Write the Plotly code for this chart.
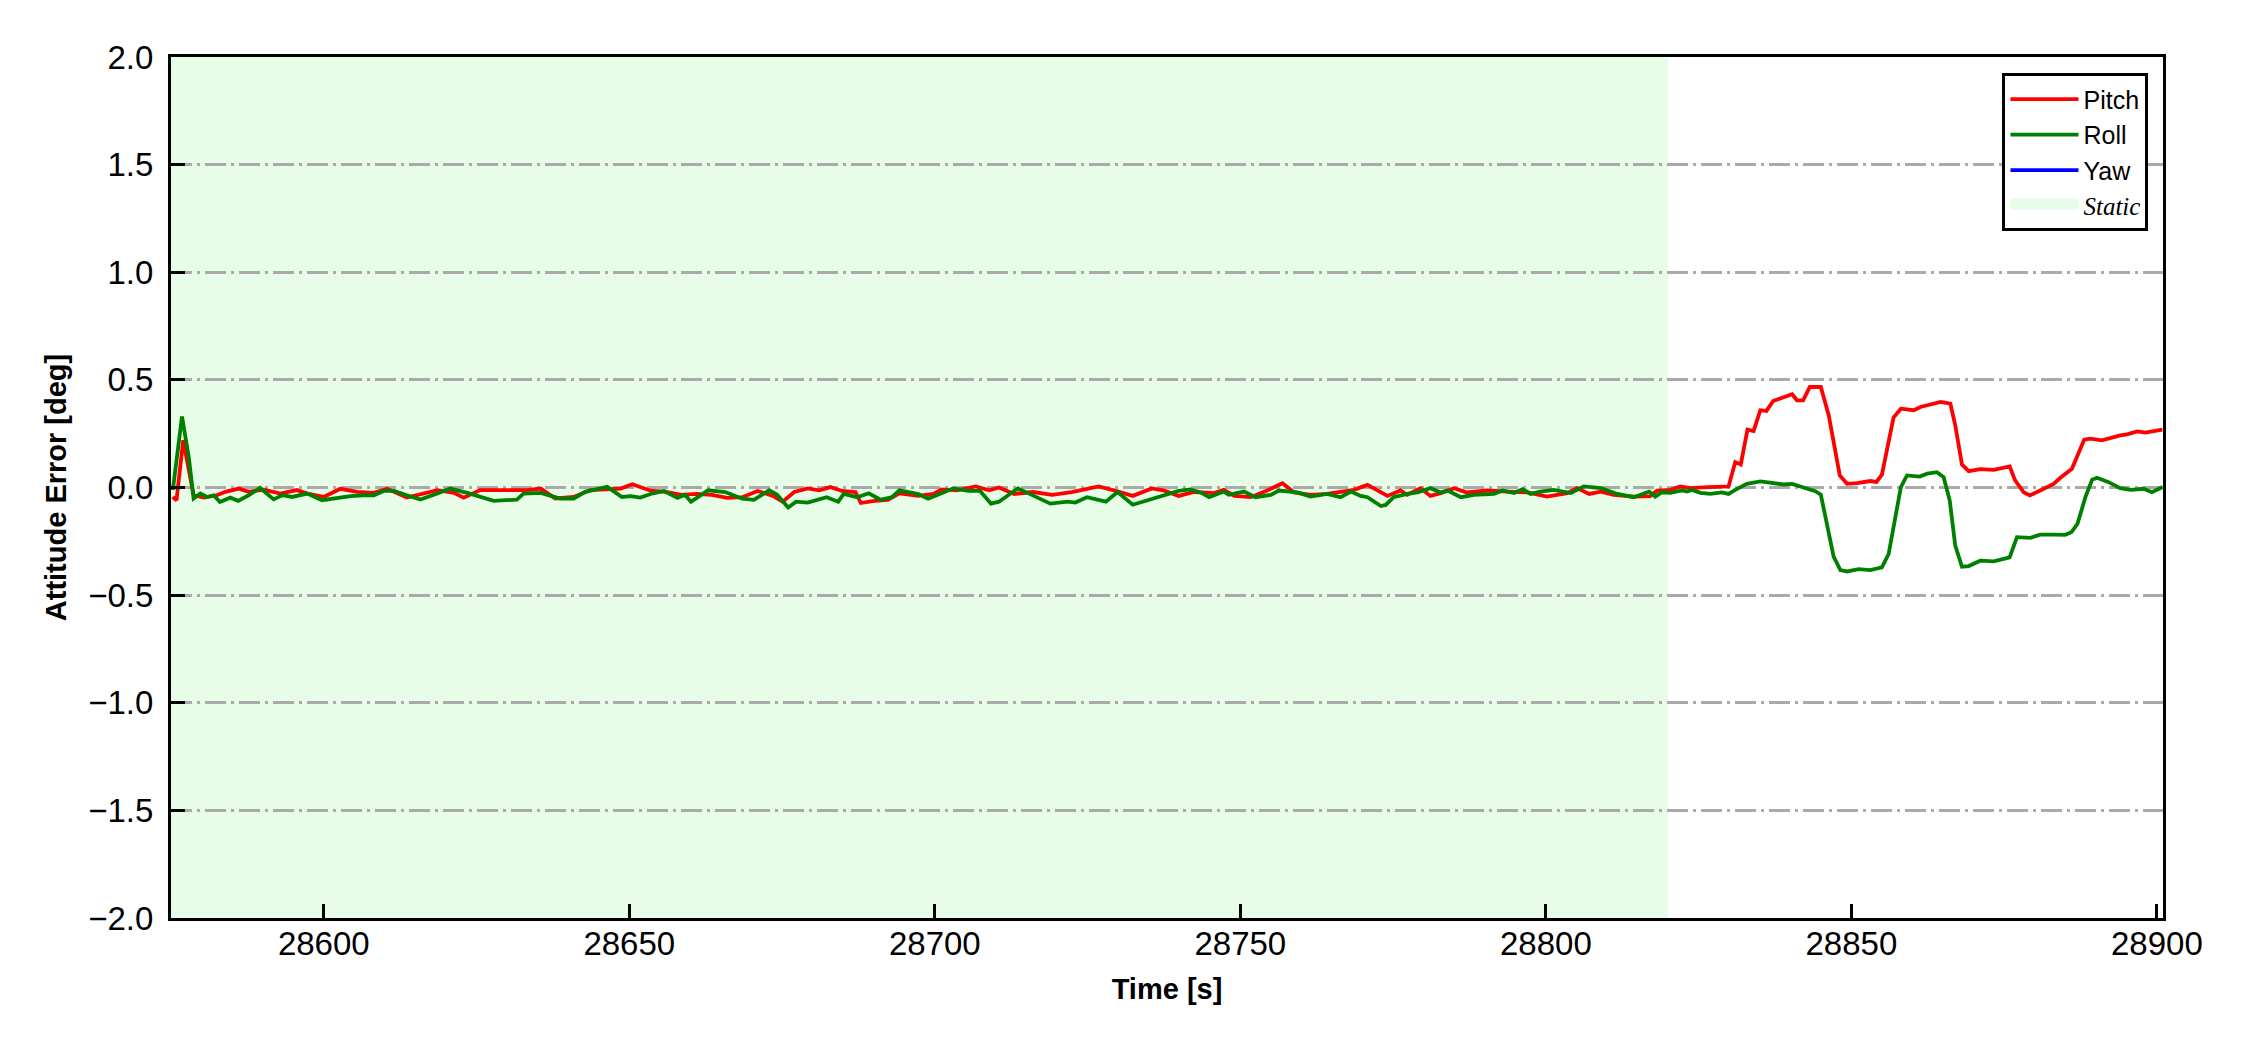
import plotly.graph_objects as go

# ---------------- data ----------------
pitch_t = [
    28575.3, 28575.9, 28577.0, 28577.9, 28578.7, 28580.4, 28582.5, 28583.9, 28586.1, 28587.7,
    28590.2, 28592.9, 28595.6, 28597.3, 28600.0, 28602.7, 28605.5, 28608.2, 28610.4, 28613.6,
    28615.8, 28618.6, 28621.3, 28622.9, 28625.6, 28630.0, 28633.3, 28635.5, 28637.9, 28640.9,
    28643.6, 28648.6, 28650.5, 28653.5, 28656.0, 28658.5, 28661.0, 28663.5, 28666.0, 28668.5,
    28671.0, 28673.5, 28675.1, 28677.0, 28679.2, 28681.1, 28682.9, 28684.8, 28687.0, 28687.9,
    28689.8, 28692.3, 28694.2, 28697.3, 28699.8, 28701.1, 28703.6, 28706.7, 28708.9, 28710.5,
    28713.0, 28716.1, 28719.2, 28722.4, 28726.8, 28729.3, 28732.4, 28735.5, 28737.4, 28739.9,
    28742.4, 28745.7, 28747.3, 28749.0, 28751.7, 28754.4, 28756.9, 28758.8, 28761.5, 28764.2,
    28766.4, 28768.6, 28770.8, 28774.1, 28776.2, 28777.3, 28779.5, 28781.1, 28782.8, 28785.0,
    28787.1, 28790.4, 28793.7, 28797.0, 28800.2, 28803.5, 28805.1, 28807.1, 28809.0, 28811.1,
    28814.4, 28817.1, 28818.2, 28820.4, 28822.0, 28823.7, 28826.5, 28829.9, 28831.0, 28831.9,
    28833.0, 28834.0, 28835.1, 28836.1, 28837.2, 28838.9, 28840.3, 28841.1, 28842.1, 28843.2,
    28845.0, 28846.3, 28848.1, 28849.3, 28850.9, 28853.1, 28854.1, 28855.0, 28856.9, 28858.1,
    28860.2, 28861.3, 28862.9, 28864.6, 28866.2, 28867.0, 28868.1, 28869.2, 28871.1, 28873.3,
    28875.9, 28876.8, 28878.2, 28879.2, 28880.9, 28883.1, 28884.2, 28886.1, 28888.1, 28889.1,
    28891.0, 28892.4, 28894.0, 28895.1, 28896.8, 28898.1, 28899.2, 28900.9,
]
pitch_deg = [
    -0.044, -0.059, 0.220, 0.080, -0.036, -0.047, -0.036, -0.020, -0.005, -0.020,
    -0.010, -0.028, -0.012, -0.028, -0.044, -0.006, -0.020, -0.025, -0.006, -0.047,
    -0.031, -0.012, -0.025, -0.047, -0.012, -0.010, -0.012, -0.005, -0.051, -0.044,
    -0.012, -0.005, 0.015, -0.015, -0.020, -0.034, -0.030, -0.034, -0.048, -0.045,
    -0.016, -0.039, -0.066, -0.021, -0.004, -0.013, 0.002, -0.016, -0.021, -0.072,
    -0.063, -0.057, -0.027, -0.039, -0.030, -0.009, -0.013, 0.005, -0.013, 0.000,
    -0.030, -0.021, -0.034, -0.021, 0.005, -0.013, -0.039, -0.004, -0.013, -0.039,
    -0.021, -0.026, -0.011, -0.039, -0.045, -0.014, 0.020, -0.023, -0.034, -0.030,
    -0.019, -0.011, 0.012, -0.039, -0.014, -0.034, -0.003, -0.039, -0.026, -0.003,
    -0.023, -0.014, -0.019, -0.023, -0.042, -0.026, -0.003, -0.030, -0.019, -0.034,
    -0.042, -0.040, -0.014, -0.011, 0.005, -0.003, 0.002, 0.005, 0.118, 0.107,
    0.269, 0.262, 0.359, 0.356, 0.402, 0.418, 0.433, 0.405, 0.405, 0.467,
    0.467, 0.335, 0.056, 0.017, 0.020, 0.030, 0.026, 0.060, 0.325, 0.366,
    0.359, 0.374, 0.385, 0.398, 0.390, 0.289, 0.107, 0.076, 0.085, 0.082,
    0.098, 0.033, -0.022, -0.037, -0.014, 0.017, 0.045, 0.087, 0.222, 0.227,
    0.219, 0.231, 0.242, 0.247, 0.261, 0.255, 0.262, 0.269,
]

roll_t = [
    28575.3, 28576.8, 28577.9, 28578.7, 28579.8, 28580.9, 28582.0, 28583.0, 28584.7, 28586.0,
    28587.7, 28589.6, 28591.8, 28593.2, 28594.8, 28597.3, 28599.7, 28601.6, 28604.4, 28606.5,
    28608.2, 28609.8, 28611.5, 28613.6, 28615.8, 28618.6, 28620.7, 28623.5, 28625.6, 28627.8,
    28631.6, 28632.7, 28635.5, 28638.7, 28640.9, 28642.8, 28646.4, 28648.8, 28650.2, 28651.8,
    28653.5, 28655.7, 28657.9, 28659.1, 28660.1, 28662.9, 28665.7, 28668.5, 28670.4, 28672.9,
    28674.2, 28676.0, 28677.3, 28679.2, 28682.3, 28684.2, 28685.1, 28687.3, 28689.2, 28691.1,
    28693.0, 28694.2, 28697.3, 28698.9, 28701.1, 28703.0, 28705.5, 28707.4, 28709.2, 28710.5,
    28713.6, 28716.1, 28718.9, 28721.8, 28723.0, 28724.9, 28728.0, 28729.9, 28732.4, 28739.9,
    28741.8, 28743.5, 28744.9, 28747.3, 28748.1, 28750.6, 28752.5, 28755.0, 28756.3, 28759.3,
    28761.5, 28764.2, 28766.4, 28768.1, 28769.7, 28770.8, 28773.0, 28773.8, 28775.1, 28777.3,
    28779.0, 28781.1, 28782.8, 28783.9, 28786.1, 28788.2, 28791.5, 28792.9, 28794.8, 28796.2,
    28797.5, 28799.1, 28801.3, 28804.1, 28806.2, 28809.0, 28811.7, 28814.4, 28816.9, 28817.9,
    28819.0, 28820.4, 28822.3, 28823.1, 28823.9, 28825.3, 28826.9, 28828.8, 28829.9, 28831.0,
    28832.9, 28835.1, 28837.3, 28838.9, 28840.3, 28842.2, 28844.1, 28845.0, 28846.0, 28847.1,
    28848.2, 28849.3, 28851.2, 28853.1, 28855.0, 28856.1, 28858.1, 28859.1, 28861.2, 28862.4,
    28864.0, 28865.1, 28866.1, 28867.0, 28868.1, 28869.2, 28871.1, 28873.3, 28875.9, 28877.1,
    28879.3, 28880.9, 28883.1, 28885.0, 28886.0, 28887.0, 28888.3, 28889.4, 28890.2, 28892.1,
    28894.0, 28895.7, 28897.8, 28899.2, 28900.9,
]
roll_deg = [
    -0.012, 0.330, 0.143, -0.051, -0.028, -0.044, -0.036, -0.067, -0.047, -0.062,
    -0.036, -0.002, -0.055, -0.036, -0.044, -0.028, -0.059, -0.051, -0.040, -0.036,
    -0.036, -0.016, -0.016, -0.036, -0.056, -0.028, -0.005, -0.025, -0.044, -0.062,
    -0.056, -0.028, -0.025, -0.051, -0.051, -0.020, 0.003, -0.044, -0.040, -0.047,
    -0.030, -0.016, -0.048, -0.034, -0.066, -0.013, -0.021, -0.052, -0.057, -0.013,
    -0.034, -0.093, -0.066, -0.070, -0.045, -0.066, -0.030, -0.045, -0.027, -0.057,
    -0.045, -0.013, -0.030, -0.052, -0.027, -0.004, -0.016, -0.016, -0.075, -0.066,
    -0.004, -0.039, -0.075, -0.066, -0.070, -0.045, -0.066, -0.021, -0.080, -0.016,
    -0.009, -0.023, -0.045, -0.019, -0.034, -0.019, -0.045, -0.034, -0.014, -0.023,
    -0.042, -0.030, -0.045, -0.019, -0.039, -0.045, -0.086, -0.081, -0.045, -0.030,
    -0.023, -0.003, -0.023, -0.014, -0.045, -0.034, -0.030, -0.014, -0.026, -0.008,
    -0.030, -0.019, -0.011, -0.026, 0.005, -0.003, -0.030, -0.045, -0.019, -0.042,
    -0.022, -0.025, -0.014, -0.019, -0.011, -0.025, -0.030, -0.023, -0.030, -0.011,
    0.017, 0.028, 0.022, 0.014, 0.017, 0.002, -0.017, -0.033, -0.161, -0.321,
    -0.384, -0.390, -0.379, -0.384, -0.371, -0.309, 0.002, 0.056, 0.051, 0.064,
    0.071, 0.048, -0.061, -0.270, -0.368, -0.365, -0.340, -0.343, -0.325, -0.231,
    -0.234, -0.219, -0.219, -0.220, -0.208, -0.169, -0.045, 0.036, 0.045, 0.025,
    -0.003, -0.011, -0.006, -0.022, 0.002,
]

# Yaw appears only in the legend of the reference (no visible curve)
yaw_t = [None]
yaw_deg = [None]

static_start = 28575.0
static_end = 28820.0

x_range = [28575.0, 28901.0]
y_range = [-2.0, 2.0]
x_ticks = [28600, 28650, 28700, 28750, 28800, 28850, 28900]
y_ticks = [-2.0, -1.5, -1.0, -0.5, 0.0, 0.5, 1.0, 1.5, 2.0]

# ---------------- figure ----------------
FONT = "Liberation Sans, Arial, sans-serif"
LW = 3.8
STATIC_COLOR = "#e8fde8"

fig = go.Figure()
fig.add_trace(go.Scatter(x=pitch_t, y=pitch_deg, mode="lines", name="Pitch",
                         line=dict(color="#ff0000", width=LW)))
fig.add_trace(go.Scatter(x=roll_t, y=roll_deg, mode="lines", name="Roll",
                         line=dict(color="#008000", width=LW)))
fig.add_trace(go.Scatter(x=yaw_t, y=yaw_deg, mode="lines", name="Yaw",
                         line=dict(color="#0000ff", width=LW)))
# legend entry for the static period (the shaded area itself is a shape below the grid)
fig.add_trace(go.Scatter(x=[None], y=[None], mode="lines", fill="toself",
                         fillcolor=STATIC_COLOR, line=dict(width=12, color=STATIC_COLOR),
                         name="<i><span style='font-family:Liberation Serif'>Static</span></i>"))

fig.add_shape(type="rect", xref="x", yref="y",
              x0=static_start, x1=static_end, y0=y_range[0], y1=y_range[1],
              fillcolor=STATIC_COLOR, line=dict(width=0), layer="below")

axis_common = dict(
    showline=True, linecolor="black", linewidth=3, mirror=True,
    ticks="inside", ticklen=14, tickwidth=3, tickcolor="black",
    tickfont=dict(family=FONT, size=33, color="black"),
    zeroline=False, automargin=False,
)

fig.update_xaxes(
    **axis_common,
    range=x_range, tickvals=x_ticks, tickformat="d", showgrid=False,
    ticklabelstandoff=-6,
    title=dict(text="Time [s]", standoff=19,
               font=dict(family=FONT, size=29, color="black", weight="bold")),
)
fig.update_yaxes(
    **axis_common,
    range=y_range, tickvals=y_ticks, tickformat=".1f",
    showgrid=True, gridcolor="#aaaaaa", gridwidth=2.5,
    griddash="21px,5px,3px,5px",
    ticklabelstandoff=8,
    title=dict(text="Attitude Error [deg]", standoff=14,
               font=dict(family=FONT, size=29, color="black", weight="bold")),
)

# the page body has an 8px default margin, so the figure is 8px smaller and
# its margins are shifted accordingly
fig.update_layout(
    width=2242, height=1042, autosize=False,
    margin=dict(l=163, r=87, t=49, b=132),
    paper_bgcolor="white", plot_bgcolor="white",
    font=dict(family=FONT, color="black"),
    showlegend=True,
    legend=dict(
        x=0.9927, xanchor="right", y=0.981, yanchor="top",
        bgcolor="white", bordercolor="black", borderwidth=3,
        font=dict(family=FONT, size=25, color="black"),
        itemwidth=68, tracegroupgap=0,
    ),
)

fig.write_html("out.html")
